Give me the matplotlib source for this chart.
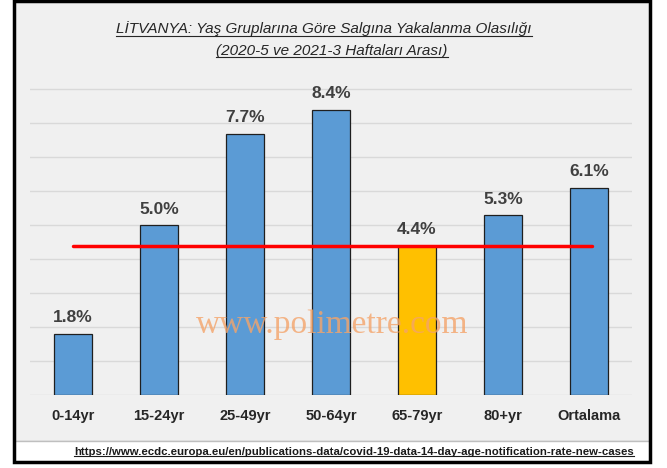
import matplotlib
matplotlib.use("Agg")
import matplotlib.pyplot as plt
from matplotlib.patches import Rectangle
from matplotlib.lines import Line2D

# data
groups = ["0-14yr", "15-24yr", "25-49yr", "50-64yr", "65-79yr", "80+yr", "Ortalama"]
values = [1.8, 5.0, 7.7, 8.4, 4.4, 5.3, 6.1]
highlight = "65-79yr"
ref_level = 4.4

title1 = "LİTVANYA: Yaş Gruplarına Göre Salgına Yakalanma Olasılığı"
title2 = "(2020-5 ve 2021-3 Haftaları Arası)"
source = "https://www.ecdc.europa.eu/en/publications-data/covid-19-data-14-day-age-notification-rate-new-cases"

plt.rcParams['font.family'] = ['Liberation Sans Narrow', 'Liberation Sans', 'DejaVu Sans']

W, H = 667, 468
fig = plt.figure(figsize=(W / 100, H / 100), dpi=100)
fig.patch.set_facecolor("white")

def px(x0, y0, x1, y1):
    # pixel box -> figure fraction rect
    return (x0 / W, 1 - y1 / H), (x1 - x0) / W, (y1 - y0) / H

# gray chart area + source box + outer frame
xy, w, h = px(14, 1, 650, 441)
fig.patches.append(Rectangle(xy, w, h, transform=fig.transFigure, facecolor="#f0f0f0",
                             edgecolor="#bfbfbf", lw=1, zorder=-2))
xy, w, h = px(14, 441, 650, 462)
fig.patches.append(Rectangle(xy, w, h, transform=fig.transFigure, facecolor="white",
                             edgecolor="#bfbfbf", lw=1, zorder=-2))
xy, w, h = px(14, 1, 650, 462)
fig.patches.append(Rectangle(xy, w, h, transform=fig.transFigure, facecolor="none",
                             edgecolor="black", lw=2.5, zorder=5))

ax = fig.add_axes([30 / W, 1 - 395 / H, 602 / W, 326 / H])
ax.set_facecolor("none")

x = list(range(len(groups)))
colors = ["#ffc000" if g == highlight else "#5b9bd5" for g in groups]
ax.bar(x, values, width=0.45, color=colors, edgecolor="#1f1f1f", linewidth=0.9, zorder=3)
for xi, v in zip(x, values):
    ax.text(xi, v + 0.25, f"{v:.1f}%", ha="center", va="bottom", fontsize=12.5,
            fontweight="bold", color="#404040", zorder=4)

ax.plot([0, 6.03], [ref_level, ref_level], color="#ff0000", lw=2.5, zorder=4, solid_capstyle="round")

ax.set_xlim(-0.5, 6.5)
ax.set_ylim(0, 9.6)
ax.set_yticks(range(0, 10))
ax.yaxis.grid(True, color="#d9d9d9", lw=1, zorder=0)
ax.tick_params(axis="y", left=False, labelleft=False)
ax.tick_params(axis="x", length=0, pad=10)
ax.set_xticks(x)
ax.set_xticklabels(groups, fontsize=10.5, fontweight="bold", color="#262626")
for s in ax.spines.values():
    s.set_visible(False)

# watermark
fig.text(332 / W, 1 - 325 / H, "www.polimetre.com", ha="center", va="center",
         fontsize=24, family="Liberation Serif", color="#f4a46a", alpha=0.8, zorder=10)

# titles and source
t1 = fig.text(324 / W, 1 - 29 / H, title1, ha="center", va="center", fontsize=11,
              style="italic", color="#262626")
t2 = fig.text(332 / W, 1 - 51 / H, title2, ha="center", va="center", fontsize=11,
              style="italic", color="#262626")
t3 = fig.text(634 / W, 1 - 452 / H, source, ha="right", va="center", fontsize=8.2,
              fontweight="bold", color="#1a1a1a")

# underline the texts
fig.canvas.draw()
r = fig.canvas.get_renderer()
for t in (t1, t2, t3):
    bb = t.get_window_extent(r).transformed(fig.transFigure.inverted())
    fig.add_artist(Line2D([bb.x0, bb.x1], [bb.y0 + 0.002, bb.y0 + 0.002], transform=fig.transFigure,
                          color=t.get_color(), lw=0.8))

fig.savefig("out.png", dpi=100, facecolor=fig.get_facecolor())
